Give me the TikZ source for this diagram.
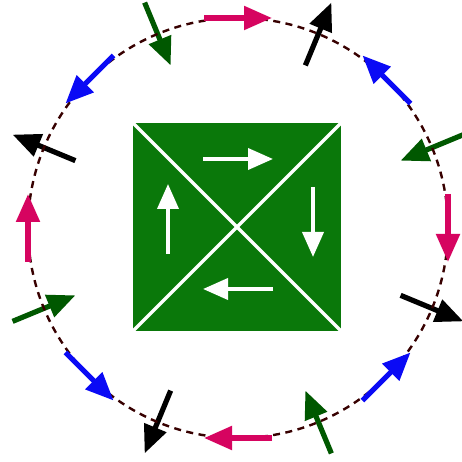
\documentclass[tikz,border=0pt]{standalone}
\usetikzlibrary{arrows.meta,calc}
\definecolor{pinkc}{RGB}{214,4,96}
\definecolor{bluec}{RGB}{10,10,245}
\definecolor{dgreen}{RGB}{0,88,0}
\definecolor{sqgreen}{RGB}{10,120,10}
\definecolor{dashc}{RGB}{55,0,0}
\tikzset{
  magarrow/.style={line width=5.2pt,-{Triangle[length=28pt,width=23pt]}},
  innerarrow/.style={white,line width=3.8pt,-{Triangle[length=25pt,width=21pt]}},
  ringline/.style={dashc,line width=2.4pt,dash pattern=on 7pt off 5.5pt},
}
\begin{document}
\begin{tikzpicture}[x=1pt,y=1pt]
\useasboundingbox (0,0) rectangle (461,462);
\coordinate (C) at (238,234);
\def\R{210}
\def\L{68}
% square
\coordinate (SW) at (133,131);
\coordinate (NE) at (341,339);
\coordinate (NW) at (133,339);
\coordinate (SE) at (341,131);
\fill[sqgreen] (SW) rectangle (NE);
\draw[white,line width=3.4pt] (SW) -- (NE);
\draw[white,line width=3.4pt] (NW) -- (SE);
% inner arrows
\coordinate (Q) at (237,235);
\draw[innerarrow] ($(Q)+(-34,68)$) -- ($(Q)+(36,68)$);
\draw[innerarrow] ($(Q)+(76,40)$) -- ($(Q)+(76,-30)$);
\draw[innerarrow] ($(Q)+(36,-62)$) -- ($(Q)+(-34,-62)$);
\draw[innerarrow] ($(Q)+(-69,-27)$) -- ($(Q)+(-69,43)$);
% black: radial outward
\foreach \t in {67.5,-22.5,247.5,157.5}{
  \draw[magarrow,black] ($(C)+(\t:\R-\L/2)$) -- ($(C)+(\t:\R+\L/2)$);
}
% green: radial inward
\foreach \t in {112.5,22.5,-67.5,202.5}{
  \draw[magarrow,dgreen] ($(C)+(\t:\R+\L/2)$) -- ($(C)+(\t:\R-\L/2)$);
}
% dashed ring
\draw[ringline] (C) circle[radius=\R];
% pink: clockwise tangent
\foreach \t in {90,0,-90,180}{
  \draw[magarrow,pinkc] ($(C)+(\t:\R)+(\t+90:\L/2)$) -- ($(C)+(\t:\R)+(\t-90:\L/2)$);
}
% blue: counterclockwise tangent
\foreach \t in {45,-45,225,135}{
  \draw[magarrow,bluec] ($(C)+(\t:\R)+(\t-90:\L/2)$) -- ($(C)+(\t:\R)+(\t+90:\L/2)$);
}
\end{tikzpicture}
\end{document}
